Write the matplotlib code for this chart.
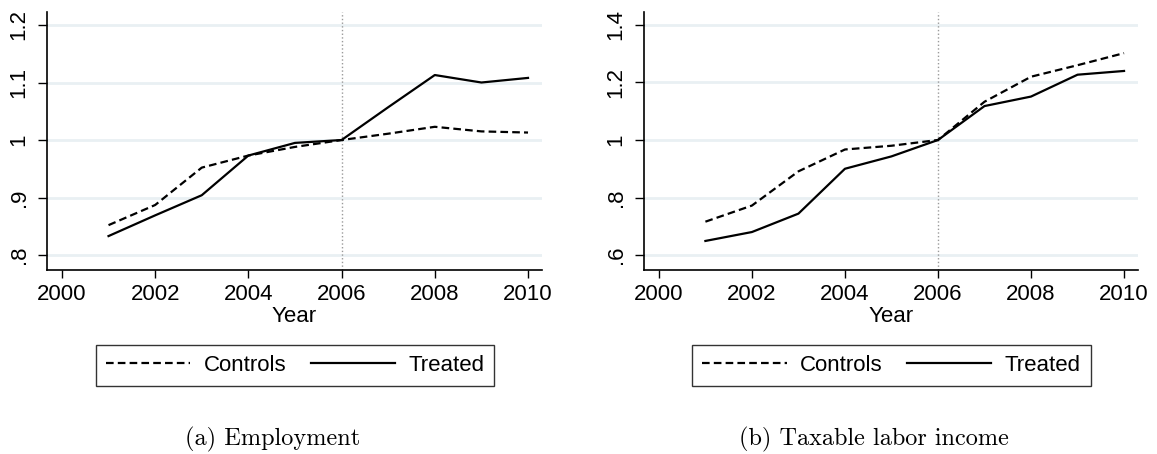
import numpy as np
import matplotlib.pyplot as plt

plt.rcParams['font.family'] = ['Liberation Sans', 'DejaVu Sans']
plt.rcParams['lines.scale_dashes'] = False

# ==========================================
# 数据：2006 = 1 归一化
years = [2001, 2002, 2003, 2004, 2005, 2006, 2007, 2008, 2009, 2010]

emp_controls = [0.852, 0.887, 0.952, 0.973, 0.988, 1.000, 1.011, 1.023, 1.015, 1.013]
emp_treated = [0.833, 0.869, 0.904, 0.973, 0.995, 1.000, 1.057, 1.113, 1.100, 1.108]

inc_controls = [0.716, 0.772, 0.891, 0.967, 0.980, 1.000, 1.133, 1.220, 1.260, 1.302]
inc_treated = [0.649, 0.680, 0.744, 0.900, 0.943, 1.000, 1.118, 1.151, 1.227, 1.240]

xticks = [2000, 2002, 2004, 2006, 2008, 2010]
emp_yticks = [0.8, 0.9, 1.0, 1.1, 1.2]
emp_ylabels = ['.8', '.9', '1', '1.1', '1.2']
inc_yticks = [0.6, 0.8, 1.0, 1.2, 1.4]
inc_ylabels = ['.6', '.8', '1', '1.2', '1.4']

event_year = 2006
captions = ['(a) Employment', '(b) Taxable labor income']

W, H = 1157, 454
fig = plt.figure(figsize=(W / 100, H / 100), dpi=100)


def px_axes(x0, x1, y0, y1):
    return fig.add_axes([x0 / W, 1 - y1 / H, (x1 - x0) / W, (y1 - y0) / H])


def panel(ax, ctrl, treat, yt, ylab, ylim):
    for y in yt:
        ax.axhline(y, color='#e9f0f3', lw=2, zorder=0)
    ax.axvline(event_year, color='#9a9a9a', lw=1, ls=':', zorder=1)
    ax.plot(years, ctrl, color='black', lw=1.6, dashes=(5.5, 3), label='Controls', zorder=3)
    ax.plot(years, treat, color='black', lw=1.6, label='Treated', zorder=3)

    ax.set_xlim(1999.68, 2010.3)
    ax.set_ylim(*ylim)
    ax.set_xticks(xticks)
    ax.set_yticks(yt)
    ax.set_yticklabels(ylab, rotation=90, va='center')
    ax.tick_params(axis='x', labelsize=16, length=6, width=1, pad=4)
    ax.tick_params(axis='y', labelsize=16, length=6.5, width=1, pad=6)
    ax.set_xlabel('Year', fontsize=16, labelpad=1)

    for s in ['top', 'right']:
        ax.spines[s].set_visible(False)
    for s in ['left', 'bottom']:
        ax.spines[s].set_linewidth(1.2)

    leg = ax.legend(loc='upper center', bbox_to_anchor=(0.501, -0.29), ncol=2,
                    fontsize=16, frameon=True, fancybox=False, borderaxespad=0,
                    handlelength=3.8, handletextpad=0.6, columnspacing=1.1,
                    borderpad=0.45)
    leg.get_frame().set_edgecolor('black')
    leg.get_frame().set_linewidth(1.0)


ax1 = px_axes(47, 542, 12, 270)
panel(ax1, emp_controls, emp_treated, emp_yticks, emp_ylabels, (0.774, 1.2226))

ax2 = px_axes(644, 1138, 12, 270)
panel(ax2, inc_controls, inc_treated, inc_yticks, inc_ylabels, (0.548, 1.445))

# 子图标题
fig.text(273 / W, 1 - 439 / H, captions[0], fontfamily='cmr10', fontsize=17.5,
         ha='center', va='center')
fig.text(874 / W, 1 - 439 / H, captions[1], fontfamily='cmr10', fontsize=17.5,
         ha='center', va='center')

fig.savefig('out.png', dpi=100)
